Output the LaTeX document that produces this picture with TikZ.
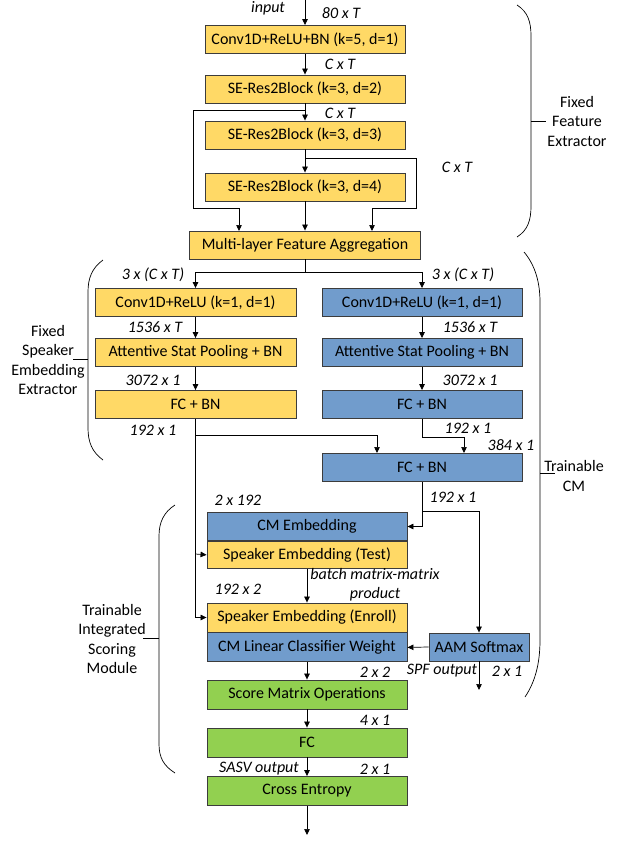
\documentclass[tikz,border=0pt]{standalone}
\usepackage{fontspec}
\setmainfont{Carlito}
\usetikzlibrary{arrows.meta,calc}
\definecolor{ylw}{RGB}{255,217,102}
\definecolor{blu}{RGB}{113,156,204}
\definecolor{grn}{RGB}{146,208,80}
\definecolor{edge}{RGB}{60,60,60}
\begin{document}
\begin{tikzpicture}[x=1pt,y=-1pt,
  box/.style={draw=edge,line width=0.9pt,minimum height=28pt,inner sep=0pt,font=\fontsize{16}{18}\selectfont},
  yb/.style={box,fill=ylw},
  bb/.style={box,fill=blu},
  gb/.style={box,fill=grn},
  arr/.style={-{Triangle[length=6pt,width=5.5pt]},line width=0.7pt},
  ln/.style={line width=0.7pt},
  lbl/.style={font=\fontsize{16}{18}\selectfont\itshape,inner sep=0pt},
  grp/.style={font=\fontsize{16}{19.5}\selectfont,align=center,inner sep=0pt},
  brace/.style={line width=0.7pt}]
\useasboundingbox (0,0) rectangle (623,841);

% top column
\node[yb,minimum width=200pt] (b1) at (305,39.5) {Conv1D+ReLU+BN (k=5, d=1)};
\node[yb,minimum width=200pt] (b2) at (305,89) {SE-Res2Block (k=3, d=2)};
\node[yb,minimum width=200pt] (b3) at (305,135) {SE-Res2Block (k=3, d=3)};
\node[yb,minimum width=200pt] (b4) at (305,187) {SE-Res2Block (k=3, d=4)};
\node[yb,minimum width=231pt] (mfa) at (305,245) {Multi-layer Feature Aggregation};

% two columns
\node[yb,minimum width=201pt] (lc) at (195.5,302.5) {Conv1D+ReLU (k=1, d=1)};
\node[yb,minimum width=201pt] (la) at (195.5,352.5) {Attentive Stat Pooling + BN};
\node[yb,minimum width=201pt] (lf) at (195.5,404.5) {FC + BN};
\node[bb,minimum width=200pt] (rc) at (422,302.5) {Conv1D+ReLU (k=1, d=1)};
\node[bb,minimum width=200pt] (ra) at (422,352.5) {Attentive Stat Pooling + BN};
\node[bb,minimum width=200pt] (rf) at (422,404.5) {FC + BN};
\node[bb,minimum width=200pt] (mf) at (422,467.5) {FC + BN};

% scoring module
\node[bb,minimum width=200pt] (cme) at (307,526.5) {CM Embedding};
\node[yb,minimum width=200pt,minimum height=27pt,anchor=north] (spt) at (cme.south) {Speaker Embedding (Test)};
\node[yb,minimum width=200pt,minimum height=29pt] (spe) at (307,617.5) {Speaker Embedding (Enroll)};
\node[bb,minimum width=200pt,minimum height=29pt,anchor=north] (cml) at (spe.south) {CM Linear Classifier Weight};
\node[bb,minimum width=100pt] (aam) at (479,647) {AAM Softmax};
\node[gb,minimum width=200pt,minimum height=29pt] (smo) at (307,694.5) {Score Matrix Operations};
\node[gb,minimum width=200pt,minimum height=29pt] (fc) at (307,742.5) {FC};
\node[gb,minimum width=200pt,minimum height=29pt] (ce) at (307,791) {Cross Entropy};

% coordinates
\coordinate (in) at (305,0);
\coordinate (j1) at (305,110);
\coordinate (l1) at (193,110);
\coordinate (l2) at (193,208);
\coordinate (l3) at (239,231);
\coordinate (j2) at (305,158);
\coordinate (r1) at (416,158);
\coordinate (r2) at (416,208);
\coordinate (r3) at (372,231);
\coordinate (s0) at (305,272);
\coordinate (sl) at (195.5,272);
\coordinate (sr) at (422,272);
\coordinate (k1) at (422,437);
\coordinate (k2) at (464,453);
\coordinate (m1) at (195.5,435);
\coordinate (m2) at (377,453);
\coordinate (t1) at (195.5,554);
\coordinate (t2) at (195.5,617.5);
\coordinate (n1) at (422,511);
\coordinate (n2) at (479,511);
\coordinate (aamout) at (479,690);
\coordinate (out) at (307,835);

% top connectors
\draw[arr] (in) -- (b1);
\draw[arr] (b1) -- (b2);
\draw[arr] (b2) -- (b3);
\draw[arr] (b3) -- (b4);
\draw[arr] (b4) -- (mfa);
\draw[arr] (j1) -- (l1) -- (l2) -| (l3);
\draw[arr] (j2) -- (r1) -- (r2) -| (r3);

% split
\draw[ln] (mfa.south) -- (s0);
\draw[arr] (s0) -- (sl) -- (lc.north);
\draw[arr] (s0) -- (sr) -- (rc.north);
\draw[arr] (lc) -- (la);
\draw[arr] (la) -- (lf);
\draw[arr] (rc) -- (ra);
\draw[arr] (ra) -- (rf);
\draw[arr] (rf.south) -- (k1) -| (k2);
\draw[arr] (m1) -| (m2);
\draw[arr] (lf.south) -- (t2) -- (spe.west);
\draw[arr] (t1) -- (spt.west);
\draw[arr] (mf.south) |- (cme.east);
\draw[arr] (n1) -- (n2) -- (aam.north);
\draw[arr] (spt.south) -- (spe.north);
\draw[arr] (aam.west) -- (cml.east);
\draw[arr] (aam.south) -- (aamout);
\draw[arr] (cml.south) -- (smo.north);
\draw[arr] (smo) -- (fc);
\draw[arr] (fc) -- (ce);
\draw[arr] (ce.south) -- (out);

% labels
\node[lbl] (tin) at (268,8) {input};
\node[lbl] (t80) at (341,13) {80 x T};
\node[lbl] (tc1) at (340,64) {C x T};
\node[lbl] (tc2) at (340,113) {C x T};
\node[lbl] (tc3) at (457,167) {C x T};
\node[lbl] (t3l) at (153,275) {3 x (C x T)};
\node[lbl] (t3r) at (463,275) {3 x (C x T)};
\node[lbl] (t15l) at (155,327) {1536 x T};
\node[lbl] (t15r) at (470,327) {1536 x T};
\node[lbl] (t30l) at (153,380) {3072 x 1};
\node[lbl] (t30r) at (470,380) {3072 x 1};
\node[lbl] (t19l) at (153,430) {192 x 1};
\node[lbl] (t19r) at (468,428) {192 x 1};
\node[lbl] (t384) at (511,445) {384 x 1};
\node[lbl] (t19m) at (453,497) {192 x 1};
\node[lbl] (t2192) at (238,500) {2 x 192};
\node[lbl,align=center] (tbmm) at (375,584.5) {batch matrix-matrix\\[1pt]product};
\node[lbl] (t1922) at (238,589) {192 x 2};
\node[lbl] (t22) at (375,672) {2 x 2};
\node[lbl] (tspf) at (442,671) {SPF output};
\node[lbl] (t21a) at (507,671) {2 x 1};
\node[lbl] (t41) at (375,720) {4 x 1};
\node[lbl] (tsasv) at (259,769) {SASV output};
\node[lbl] (t21b) at (375,769) {2 x 1};

% braces and group labels
\draw[brace] (517,5) .. controls (528,12) and (531,22) .. (531,36) -- (531,206) .. controls (531,220) and (528,230) .. (517,237);
\draw[brace] (531,121) -- (546,121);
\node[grp] (gffe) at (577,121) {Fixed\\Feature\\Extractor};

\draw[brace] (103,260) .. controls (92,268) and (88,278) .. (88,292) -- (88,428) .. controls (88,442) and (92,452) .. (103,460);
\draw[brace] (88,359) -- (73,359);
\node[grp] (gfse) at (48,360) {Fixed\\Speaker\\Embedding\\Extractor};

\draw[brace] (524,252) .. controls (535,265) and (540,282) .. (540,302) -- (540,640) .. controls (540,664) and (535,682) .. (525,697);
\draw[brace] (540,473) -- (555,473);
\node[grp] (gtcm) at (574,476) {Trainable\\CM};

\draw[brace] (175,505) .. controls (164,512) and (159,522) .. (159,536) -- (159,744) .. controls (159,758) and (164,766) .. (175,773);
\draw[brace] (159,638) -- (143,638);
\node[grp] (gtis) at (112,639) {Trainable\\Integrated\\Scoring\\Module};
\end{tikzpicture}
\end{document}
